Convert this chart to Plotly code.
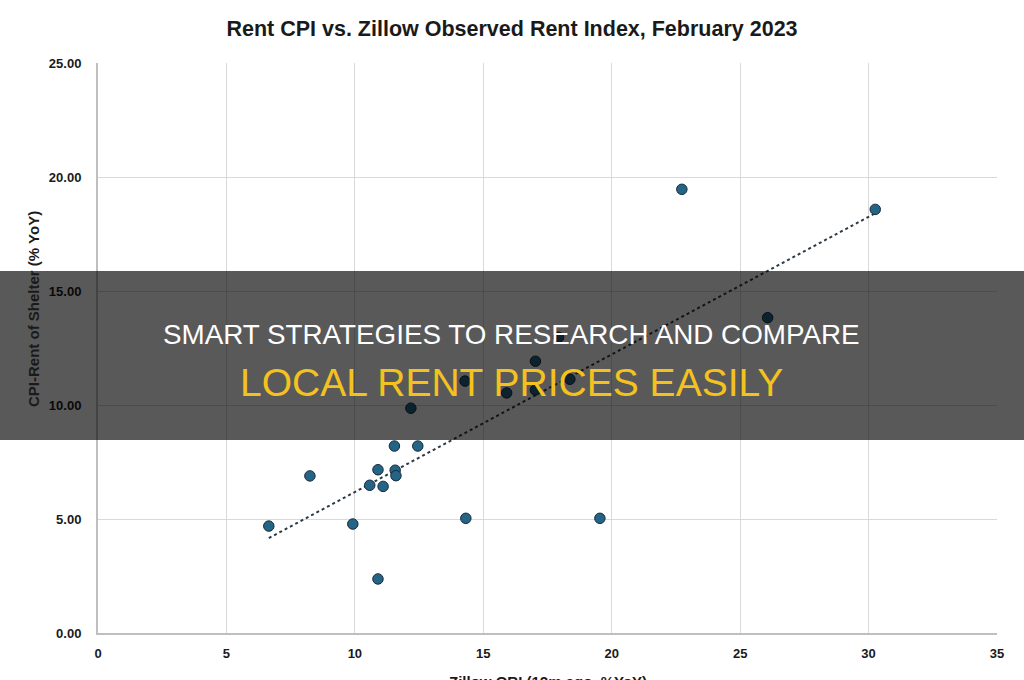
import numpy as np
import plotly.graph_objects as go

# Data
zillow_ori = [6.65, 8.25, 9.92, 10.9, 10.58, 11.1, 10.9, 11.57, 11.6, 11.54, 12.45,
              14.32, 19.54, 12.18, 15.91, 17.03, 17.03, 14.29, 18.37, 17.93, 26.07,
              22.73, 30.26]
cpi_rent = [4.69, 6.89, 4.78, 2.37, 6.48, 6.43, 7.16, 7.14, 6.9, 8.2, 8.2,
            5.03, 5.03, 9.86, 10.53, 11.92, 10.66, 11.05, 11.13, 12.97, 13.83,
            19.46, 18.58]

x_ticks = [0, 5, 10, 15, 20, 25, 30, 35]
y_ticks = [0, 5, 10, 15, 20, 25]

title_text = "Rent CPI vs. Zillow Observed Rent Index, February 2023"
x_title = "Zillow ORI (12m ago, %YoY)"
y_title = "CPI-Rent of Shelter (% YoY)"
banner_line1 = "SMART STRATEGIES TO RESEARCH AND COMPARE"
banner_line2 = "LOCAL RENT PRICES EASILY"

# Linear trend line (least squares fit)
xa = np.array(zillow_ori)
ya = np.array(cpi_rent)
slope, intercept = np.polyfit(xa, ya, 1)
tx = [xa.min(), xa.max()]
ty = [slope * v + intercept for v in tx]

fig = go.Figure()
fig.add_trace(go.Scatter(
    x=tx, y=ty, mode="lines",
    line=dict(color="#2b3a44", width=2, dash="dot"),
    hoverinfo="skip", showlegend=False))
fig.add_trace(go.Scatter(
    x=zillow_ori, y=cpi_rent, mode="markers",
    marker=dict(size=10.5, color="#246586", line=dict(color="#16293a", width=1)),
    showlegend=False))

L, R, T, B = 98, 27, 63, 47
W, H = 1024, 680
pw = W - L - R
ph = H - T - B
FONT = "Liberation Sans, Arial, sans-serif"

fig.update_layout(
    width=W, height=H, autosize=False,
    margin=dict(l=L, r=R, t=T, b=B, pad=0),
    paper_bgcolor="white", plot_bgcolor="white",
    font=dict(family=FONT, color="#1a1a1a"),
    title=dict(text="<b>" + title_text + "</b>", x=0.5, xanchor="center",
               y=1 - 28 / H, yanchor="middle",
               font=dict(size=21.5, family=FONT, color="#1a1a1a")),
    xaxis=dict(range=[0, 35], tickvals=x_ticks, ticktext=[str(v) for v in x_ticks],
               showgrid=True, gridcolor="#d9d9d9", gridwidth=1,
               zeroline=False, showline=True, linecolor="#bfbfbf", linewidth=2,
               ticks="", ticklabelstandoff=7,
               tickfont=dict(size=13, family=FONT, color="#1a1a1a", weight="bold")),
    yaxis=dict(range=[0, 25], tickvals=y_ticks, ticktext=["%.2f" % v for v in y_ticks],
               showgrid=True, gridcolor="#d9d9d9", gridwidth=1,
               zeroline=False, showline=True, linecolor="#bfbfbf", linewidth=2,
               ticks="", ticklabelstandoff=12,
               tickfont=dict(size=13, family=FONT, color="#1a1a1a", weight="bold")),
)

# axis titles as annotations for precise placement
fig.add_annotation(text="<b>" + y_title + "</b>", xref="paper", yref="paper",
                   x=-(L - 33) / pw, y=(H - B - 309) / ph, textangle=-90,
                   showarrow=False, xanchor="center", yanchor="middle",
                   font=dict(size=15, color="#1a1a1a"))
fig.add_annotation(text="<b>" + x_title + "</b>", xref="paper", yref="paper",
                   x=0.5, y=-(671 - (H - B)) / ph, showarrow=False,
                   xanchor="center", yanchor="top",
                   font=dict(size=15, color="#1a1a1a"))

# dark banner overlay
fig.add_shape(type="rect", xref="paper", yref="paper", layer="above",
              x0=-(L + 5) / pw, x1=(W - L + 5) / pw,
              y0=(H - B - 440) / ph, y1=(H - B - 271) / ph,
              fillcolor="rgba(0,0,0,0.65)", line=dict(width=0))
fig.add_annotation(text=banner_line1, xref="paper", yref="paper",
                   x=(511 - L) / pw, y=(H - B - 334) / ph, showarrow=False,
                   xanchor="center", yanchor="middle",
                   font=dict(size=27.8, color="#ffffff", family=FONT))
fig.add_annotation(text=banner_line2, xref="paper", yref="paper",
                   x=(511 - L) / pw, y=(H - B - 382) / ph, showarrow=False,
                   xanchor="center", yanchor="middle",
                   font=dict(size=39, color="#f4c21e", family=FONT))

fig.write_html("out.html")
